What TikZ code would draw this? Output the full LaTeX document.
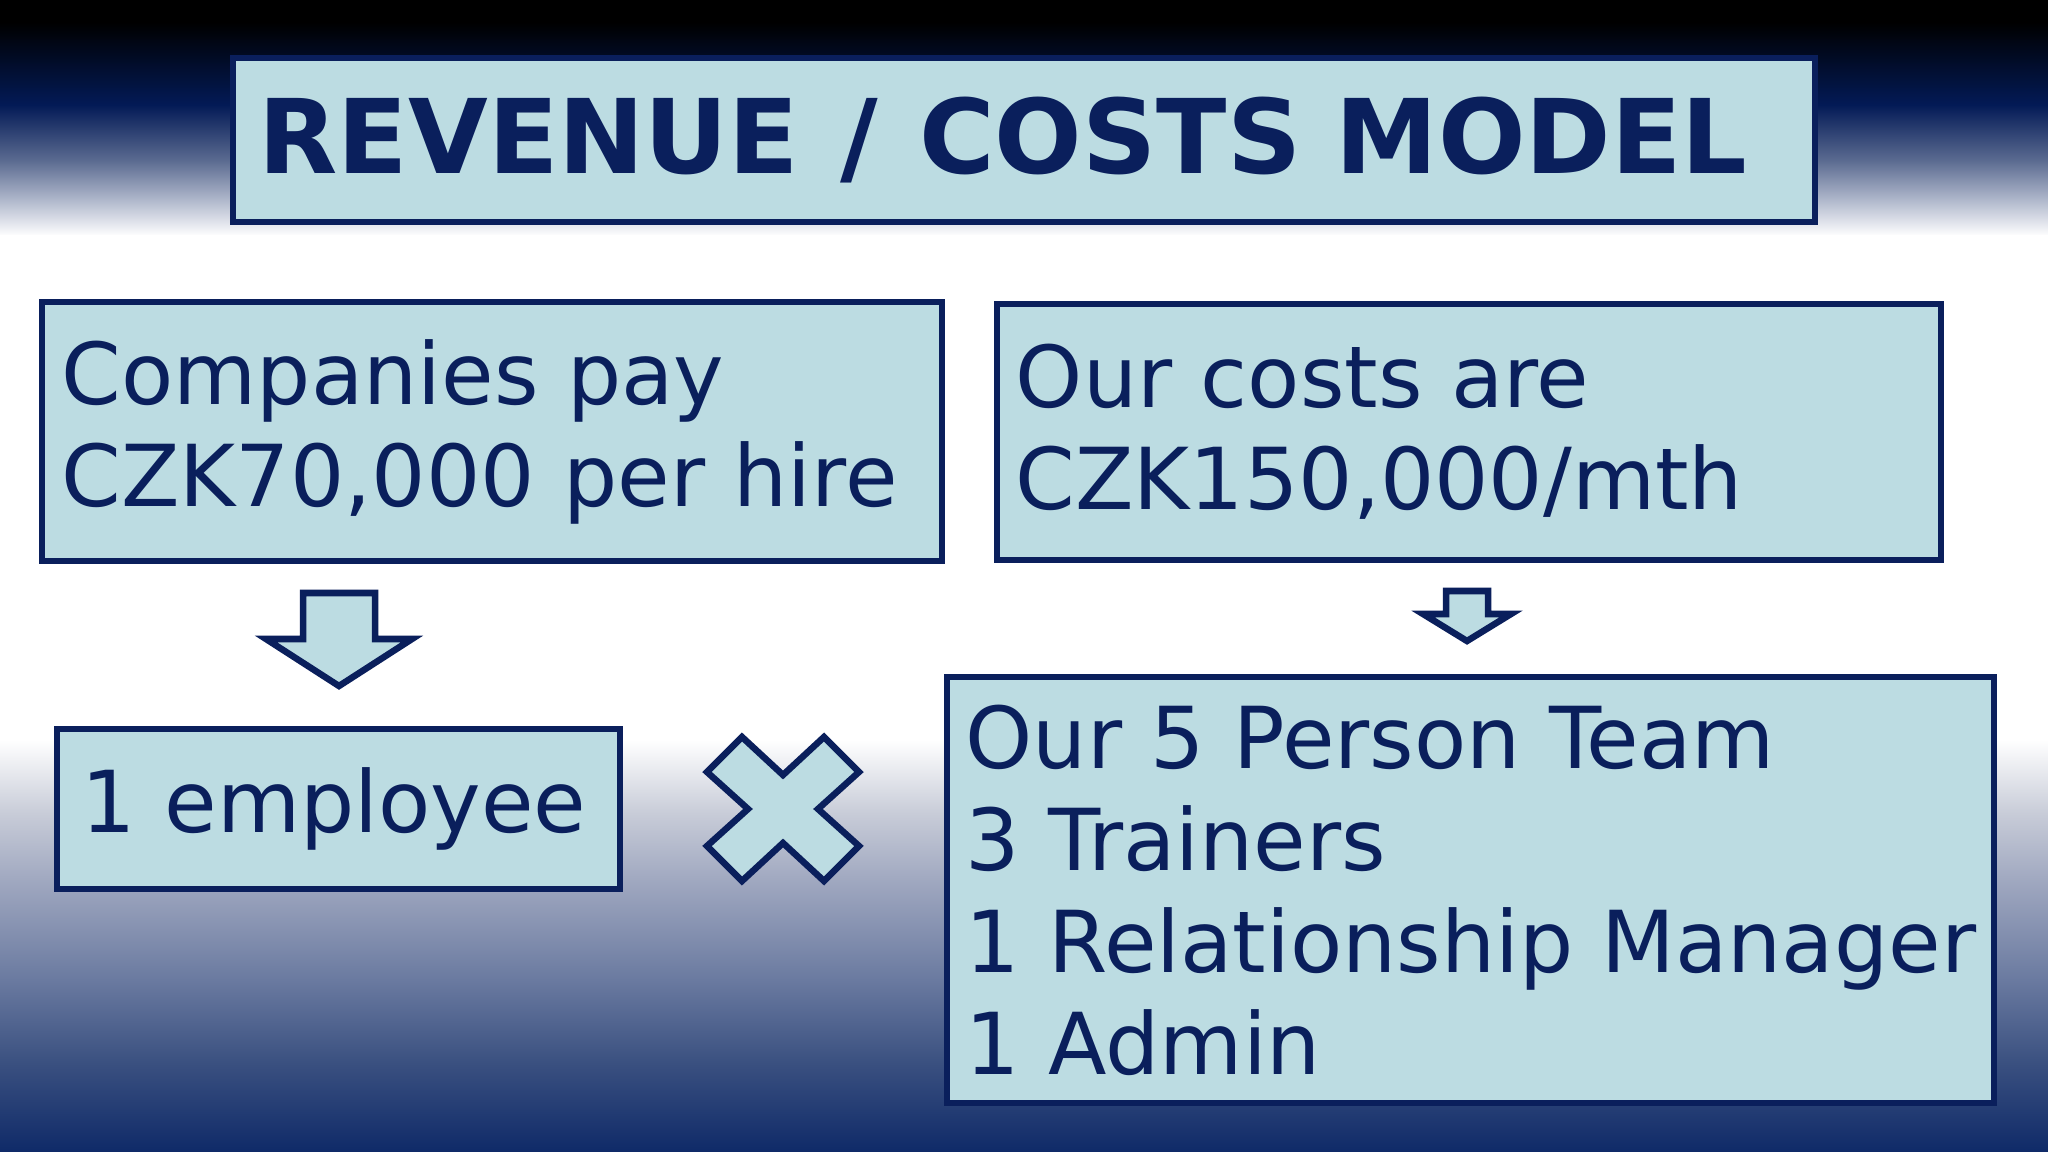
\documentclass[tikz,border=0pt]{standalone}
\usepackage{fontspec}
\setmainfont{DejaVu Sans}
\definecolor{boxline}{HTML}{0A1F5C}
\definecolor{boxfill}{HTML}{BCDCE2}
\definecolor{bgtop}{HTML}{031A56}
\definecolor{bgmid}{HTML}{5A6A90}
\definecolor{bglight}{HTML}{B0B8CC}
\definecolor{bgbot}{HTML}{0F2A68}
\definecolor{bgba}{HTML}{C8CCD8}
\definecolor{bgbb}{HTML}{A0A8C0}
\definecolor{bgbc}{HTML}{6A7AA0}
\definecolor{bgbd}{HTML}{3A5080}
\pgfdeclareverticalshading{topband}{100bp}{color(0bp)=(white); color(25bp)=(white); color(32.6bp)=(bglight); color(41.1bp)=(bgmid); color(52.8bp)=(bgtop); color(70.3bp)=(black); color(100bp)=(black)}
\pgfdeclareverticalshading{bottomband}{100bp}{color(0bp)=(bgbot); color(25bp)=(bgbot); color(35.8bp)=(bgbd); color(45.9bp)=(bgbc); color(58bp)=(bgbb); color(66.1bp)=(bgba); color(75bp)=(white); color(100bp)=(white)}

\begin{document}
\begin{tikzpicture}[x = 0.01cm, y = -0.01cm,
	box/.style = {draw = boxline, fill = boxfill, line width = 0.06cm, text = boxline, align = left, inner ysep = 0pt, font = {\fontsize{24.3pt}{29pt}\selectfont}},
	blockarrow/.style = {draw = boxline, fill = boxfill, line width = 0.065cm}]
\useasboundingbox (0,0) rectangle (2048,1152);

% background
\shade[shading = topband] (0,0) rectangle (2048,236);
\fill[white] (0,235) rectangle (2048,741);
\shade[shading = bottomband] (0,740) rectangle (2048,1152);

\node[box, font = {\fontsize{29.3pt}{34pt}\selectfont\bfseries}, text width = 15.30cm, inner xsep = 0.26cm, minimum height = 1.64cm] (TITLE) at (1024, 140) {REVENUE\hspace{0.07em} / \hspace{0.07em}COSTS MODEL};

\node[box, text width = 8.60cm, inner xsep = 0.20cm, minimum height = 2.59cm] (PAY) at (492, 431.5) {Companies pay \\ CZK70,000 per hire};
\node[box, text width = 9.06cm, inner xsep = 0.19cm, minimum height = 2.56cm] (COST) at (1469, 432) {Our costs are \\ CZK150,000/mth};
\node[box, text width = 5.13cm, inner xsep = 0.25cm, minimum height = 1.60cm] (EMP) at (338.5, 809) {1 employee};
\node[box, text width = 10.09cm, inner xsep = 0.19cm, minimum height = 4.26cm] (TEAM) at (1470.5, 890) {Our 5 Person Team \\ 3 Trainers \\ \mbox{1 Relationship Manager} \\ 1 Admin};

\draw[blockarrow] (303,593) -- (375,593) -- (375,639) -- (412,639) -- (339,686) -- (266,639) -- (303,639) -- cycle;
\draw[blockarrow] (1446,591) -- (1488,591) -- (1488,614) -- (1511,614) -- (1467,641) -- (1423,614) -- (1446,614) -- cycle;

\begin{scope}[shift = {(783, 809)}]
\draw[blockarrow] (-41,-72) -- (0,-34) -- (41,-72) -- (76,-37) -- (35,0) -- (76,37) -- (41,72) -- (0,34) -- (-41,72) -- (-76,37) -- (-35,0) -- (-76,-37) -- cycle;
\end{scope}
\end{tikzpicture}
\end{document}
